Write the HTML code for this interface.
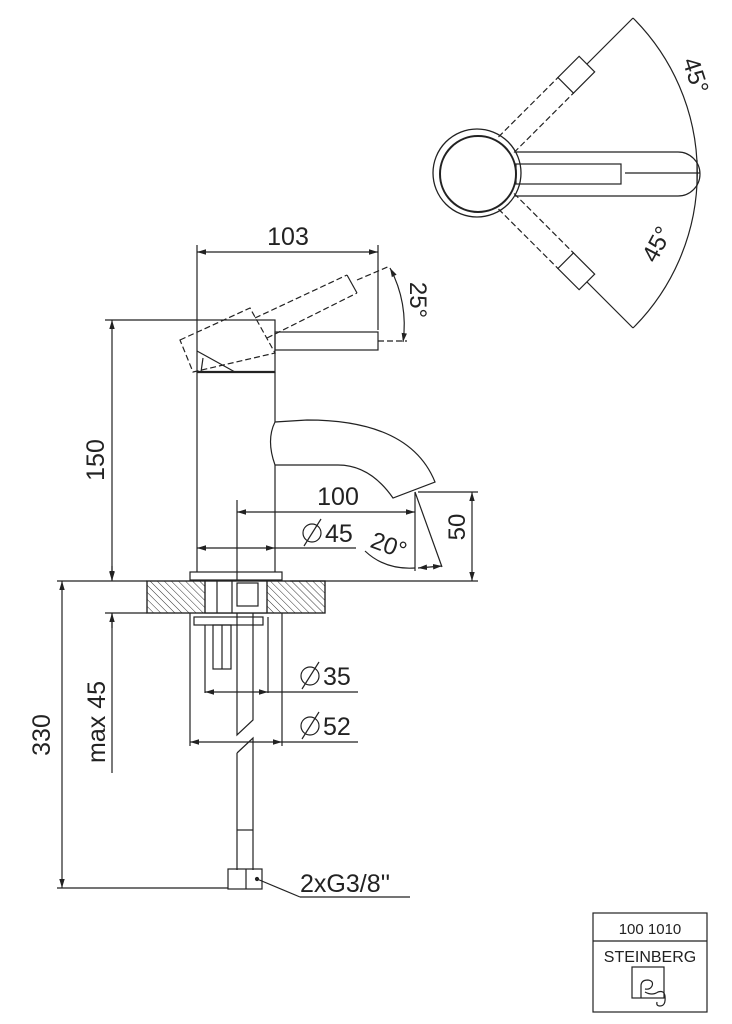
<!DOCTYPE html>
<html><head><meta charset="utf-8"><style>html,body{margin:0;padding:0;background:#fff}svg{display:block}</style></head>
<body>
<svg width="732" height="1024" viewBox="0 0 732 1024" xmlns="http://www.w3.org/2000/svg" font-family="Liberation Sans, sans-serif" fill="none" stroke="#222" stroke-width="1.2">
<defs>
<marker id="a" viewBox="0 0 10 10" refX="10" refY="5" markerWidth="9" markerHeight="9" orient="auto-start-reverse" markerUnits="userSpaceOnUse"><path d="M0,2 L10,5 L0,8 z" fill="#222" stroke="none"/></marker>
<pattern id="h" width="5" height="5" patternUnits="userSpaceOnUse" patternTransform="rotate(-45)"><line x1="0" y1="0" x2="0" y2="5" stroke="#333" stroke-width="1"/></pattern>
</defs>
<!-- TOP VIEW -->
<circle cx="477" cy="173" r="44" stroke-width="1.3"/>
<circle cx="478" cy="174" r="38" stroke-width="2"/>
<path d="M515,152 H678 A22,22 0 0 1 678,196 H515" />
<rect x="516" y="164" width="105" height="20"/>
<line x1="625" y1="173" x2="700" y2="173"/>
<path d="M633,18 A219,219 0 0 1 633,328" />
<line x1="697" y1="160" x2="697" y2="186"/>
<g transform="translate(478,173) rotate(-45)" stroke-dasharray="6,3">
<line x1="40" y1="-11" x2="124" y2="-11"/><line x1="40" y1="11" x2="124" y2="11"/>
<rect x="124" y="-11" width="30" height="22" stroke-dasharray="none"/>
</g>
<g transform="translate(478,173) rotate(45)" stroke-dasharray="6,3">
<line x1="40" y1="-11" x2="124" y2="-11"/><line x1="40" y1="11" x2="124" y2="11"/>
<rect x="124" y="-11" width="30" height="22" stroke-dasharray="none"/>
</g>
<line x1="587" y1="64" x2="633" y2="18"/>
<line x1="587" y1="282" x2="633" y2="328"/>
<text transform="translate(688,78) rotate(72)" font-size="24" fill="#222" stroke="none" text-anchor="middle">45°</text>
<text transform="translate(664,248) rotate(-62)" font-size="24" fill="#222" stroke="none" text-anchor="middle">45°</text>

<!-- SIDE VIEW -->
<line x1="197" y1="245" x2="197" y2="320"/>
<line x1="378" y1="245" x2="378" y2="330"/>
<line x1="197" y1="252" x2="378" y2="252" marker-start="url(#a)" marker-end="url(#a)"/>
<text x="288" y="245" font-size="25" fill="#222" stroke="none" text-anchor="middle">103</text>
<!-- cap -->
<rect x="197" y="320" width="78" height="52"/>
<line x1="197" y1="372" x2="275" y2="372" stroke-width="2.2"/>
<line x1="197" y1="351" x2="235" y2="372"/>
<line x1="203" y1="358" x2="201" y2="372"/>
<rect x="275" y="332" width="103" height="18"/>
<g stroke-dasharray="6,3">
<polygon points="180,340 250,308 275,353 193,372"/>
<line x1="255" y1="318" x2="347" y2="275"/>
<line x1="267" y1="338" x2="357" y2="293"/>
<line x1="357" y1="280" x2="390" y2="266"/>
<line x1="378" y1="341" x2="407" y2="341"/>
</g>
<line x1="347" y1="275" x2="357" y2="293"/>
<path d="M390,268 A120,120 0 0 1 403,342" marker-start="url(#a)" marker-end="url(#a)"/>
<text transform="translate(410,300) rotate(90)" font-size="24" fill="#222" stroke="none" text-anchor="middle">25°</text>
<!-- body -->
<line x1="197" y1="372" x2="197" y2="572"/>
<line x1="275" y1="372" x2="275" y2="422"/>
<line x1="275" y1="465" x2="275" y2="572"/>
<rect x="190" y="572" width="92" height="8"/>
<!-- spout -->
<path d="M275,422 Q266,440 275,465 H338 Q370,465 393,498 L435,482 Q410,420 307,420 Z"/>
<!-- 150 -->
<line x1="105" y1="320" x2="197" y2="320"/>
<line x1="112" y1="320" x2="112" y2="580" marker-start="url(#a)" marker-end="url(#a)"/>
<text transform="translate(104,460) rotate(-90)" font-size="25" fill="#222" stroke="none" text-anchor="middle">150</text>
<!-- 100 -->
<line x1="237" y1="500" x2="237" y2="612"/>
<line x1="237" y1="512" x2="415" y2="512" marker-start="url(#a)" marker-end="url(#a)"/>
<text x="338" y="505" font-size="25" fill="#222" stroke="none" text-anchor="middle">100</text>
<!-- Ø45 -->
<line x1="197" y1="548" x2="275" y2="548" marker-start="url(#a)" marker-end="url(#a)"/>
<line x1="275" y1="548" x2="356" y2="548"/>
<circle cx="312" cy="533" r="9"/><line x1="304" y1="546" x2="321" y2="519"/>
<text x="325" y="542" font-size="25" fill="#222" stroke="none">45</text>
<!-- 20 -->
<line x1="415" y1="492" x2="415" y2="571"/>
<line x1="415" y1="492" x2="442" y2="567"/>
<path d="M365,551 Q385,570 415,568" />
<line x1="418" y1="568" x2="442" y2="566" marker-start="url(#a)" marker-end="url(#a)"/>
<text transform="translate(386,553) rotate(20)" font-size="24" fill="#222" stroke="none" text-anchor="middle">20°</text>
<!-- 50 -->
<line x1="418" y1="492" x2="478" y2="492"/>
<line x1="290" y1="581" x2="478" y2="581"/>
<line x1="472" y1="492" x2="472" y2="581" marker-start="url(#a)" marker-end="url(#a)"/>
<text transform="translate(465,527) rotate(-90)" font-size="24" fill="#222" stroke="none" text-anchor="middle">50</text>

<!-- countertop -->
<rect x="147" y="581" width="178" height="32" fill="url(#h)"/>
<rect x="205" y="581" width="62" height="32" fill="#fff"/>
<rect x="147" y="581" width="178" height="32"/>
<line x1="205" y1="581" x2="205" y2="613"/><line x1="267" y1="581" x2="267" y2="613"/>
<line x1="217" y1="581" x2="217" y2="613"/><line x1="232" y1="581" x2="232" y2="613"/>
<rect x="237" y="583" width="21" height="23"/>
<line x1="57" y1="581" x2="147" y2="581"/>
<line x1="105" y1="613" x2="147" y2="613"/>
<rect x="194" y="617" width="69" height="8"/>
<rect x="213" y="625" width="18" height="44"/>
<line x1="222" y1="625" x2="222" y2="669"/>
<line x1="190" y1="613" x2="190" y2="746"/>
<line x1="282" y1="613" x2="282" y2="746"/>
<line x1="205" y1="625" x2="205" y2="693"/>
<line x1="268" y1="617" x2="268" y2="693"/>
<!-- hose -->
<path d="M237,613 V735 L253,720 V613"/>
<path d="M237,753 L253,738 V870 M237,753 V870"/>
<line x1="237" y1="830" x2="253" y2="830"/>
<rect x="228" y="869" width="34" height="20"/>
<line x1="246" y1="869" x2="246" y2="889"/>
<circle cx="257" cy="879" r="1.5" fill="#222"/>
<line x1="257" y1="879" x2="300" y2="897"/>
<line x1="300" y1="897" x2="410" y2="897"/>
<text x="300" y="892" font-size="25" fill="#222" stroke="none">2xG3/8''</text>
<!-- Ø35 -->
<line x1="205" y1="692" x2="268" y2="692" marker-start="url(#a)" marker-end="url(#a)"/>
<line x1="268" y1="692" x2="358" y2="692"/>
<circle cx="310" cy="676" r="9"/><line x1="302" y1="689" x2="319" y2="662"/>
<text x="323" y="685" font-size="25" fill="#222" stroke="none">35</text>
<!-- Ø52 -->
<line x1="190" y1="742" x2="282" y2="742" marker-start="url(#a)" marker-end="url(#a)"/>
<line x1="282" y1="742" x2="358" y2="742"/>
<circle cx="310" cy="726" r="9"/><line x1="302" y1="739" x2="319" y2="712"/>
<text x="323" y="735" font-size="25" fill="#222" stroke="none">52</text>
<!-- 330 -->
<line x1="57" y1="888" x2="228" y2="888"/>
<line x1="62" y1="581" x2="62" y2="888" marker-start="url(#a)" marker-end="url(#a)"/>
<text transform="translate(50,735) rotate(-90)" font-size="25" fill="#222" stroke="none" text-anchor="middle">330</text>
<!-- max 45 -->
<line x1="112" y1="566" x2="112" y2="581" marker-end="url(#a)"/>
<line x1="112" y1="628" x2="112" y2="613" marker-end="url(#a)"/>
<line x1="112" y1="613" x2="112" y2="773"/>
<text transform="translate(105,722) rotate(-90)" font-size="25" fill="#222" stroke="none" text-anchor="middle">max 45</text>

<!-- title block -->
<rect x="593" y="913" width="114" height="99"/>
<line x1="593" y1="941" x2="707" y2="941"/>
<text x="650" y="934" font-size="15" fill="#222" stroke="none" text-anchor="middle">100 1010</text>
<text x="650" y="962" font-size="16" fill="#222" stroke="none" text-anchor="middle">STEINBERG</text>
<rect x="632" y="967" width="32" height="31"/>
<path d="M641,998 V986 Q641,980 648,980 Q654,981 652,986 Q650,990 645,989 M645,992 Q652,996 658,992 Q664,990 665,996 Q666,1006 660,1006 Q656,1006 657,1002"/>
</svg>
</body></html>
